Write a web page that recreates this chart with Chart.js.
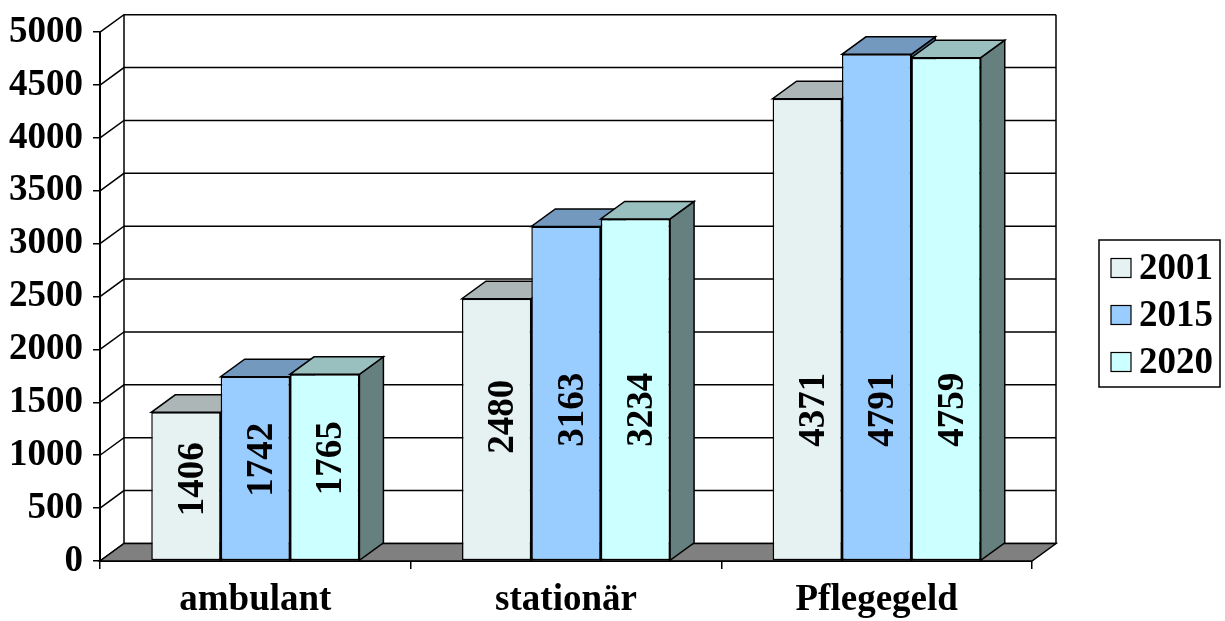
<!DOCTYPE html>
<html>
<head>
<meta charset="utf-8">
<style>
  html, body { margin: 0; padding: 0; background: #ffffff; }
  #wrap { width: 1225px; height: 621px; }
</style>
<script src="https://cdn.jsdelivr.net/npm/chart.js@4.4.1/dist/chart.umd.min.js"></script>
</head>
<body>
<div id="wrap"><canvas id="c" width="1225" height="621"></canvas></div>
<script>
// Leistungsempfänger nach Leistungsart
const categories = ['ambulant', 'stationär', 'Pflegegeld'];
const seriesLabels = ['2001', '2015', '2020'];
const values2001 = [1406, 2480, 4371];
const values2015 = [1742, 3163, 4791];
const values2020 = [1765, 3234, 4759];
const yMin = 0, yMax = 5000, yStep = 500;

const frontColors = ['#E6F2F2', '#99CCFF', '#CCFFFF'];

// receding direction of the 3D box (to the right and up)
const DX = 24, DY = 17.5;
const FONT = '"Liberation Serif", "Times New Roman", serif';

function shade(hex, f) {
  const n = parseInt(hex.slice(1), 16);
  const r = Math.round(((n >> 16) & 255) * f);
  const g = Math.round(((n >> 8) & 255) * f);
  const b = Math.round((n & 255) * f);
  return 'rgb(' + r + ',' + g + ',' + b + ')';
}

function poly(ctx, pts, fill) {
  ctx.beginPath();
  ctx.moveTo(pts[0][0], pts[0][1]);
  for (let i = 1; i < pts.length; i++) ctx.lineTo(pts[i][0], pts[i][1]);
  ctx.closePath();
  if (fill) { ctx.fillStyle = fill; ctx.fill(); }
  ctx.stroke();
}

// walls, floor and the top/side faces of the columns
const box3d = {
  id: 'box3d',
  beforeDatasetsDraw(chart) {
    const ctx = chart.ctx;
    const a = chart.chartArea;
    const ys = chart.scales.y;
    ctx.save();
    ctx.strokeStyle = '#000';
    ctx.lineWidth = 1.5;
    ctx.lineJoin = 'miter';

    // back wall grid + side wall diagonals
    for (let v = yMin; v <= yMax; v += yStep) {
      const y = ys.getPixelForValue(v);
      ctx.beginPath();
      ctx.moveTo(a.left, y);
      ctx.lineTo(a.left + DX, y - DY);
      ctx.lineTo(a.right + DX, y - DY);
      ctx.stroke();
    }
    const yTop = ys.getPixelForValue(yMax), yBot = ys.getPixelForValue(yMin);
    ctx.beginPath();
    ctx.moveTo(a.left + DX, yTop - DY); ctx.lineTo(a.left + DX, yBot - DY);
    ctx.moveTo(a.right + DX, yTop - DY); ctx.lineTo(a.right + DX, yBot - DY);
    ctx.stroke();

    // floor
    poly(ctx, [[a.left, yBot], [a.right, yBot], [a.right + DX, yBot - DY], [a.left + DX, yBot - DY]], '#808080');

    // column tops and sides, painted left to right
    const metas = chart.data.datasets.map((d, i) => chart.getDatasetMeta(i));
    for (let c = 0; c < categories.length; c++) {
      metas.forEach((meta, di) => {
        const el = meta.data[c];
        const p = el.getProps(['x', 'y', 'base', 'width'], true);
        const l = p.x - p.width / 2, r = p.x + p.width / 2;
        const col = frontColors[di];
        poly(ctx, [[r, p.y], [r + DX, p.y - DY], [r + DX, p.base - DY], [r, p.base]], shade(col, 0.5));
        poly(ctx, [[l, p.y], [r, p.y], [r + DX, p.y - DY], [l + DX, p.y - DY]], shade(col, 0.75));
      });
    }
    ctx.restore();
  },
  afterDatasetsDraw(chart) {
    const ctx = chart.ctx;
    const ys = chart.scales.y;
    ctx.save();
    ctx.fillStyle = '#000';
    ctx.font = 'bold 37px ' + FONT;
    ctx.textAlign = 'center';
    ctx.textBaseline = 'middle';
    chart.data.datasets.forEach((ds, di) => {
      const meta = chart.getDatasetMeta(di);
      meta.data.forEach((el, c) => {
        const v = ds.data[c];
        const p = el.getProps(['x'], true);
        const cy = ys.getPixelForValue(Math.min(v * 0.55, 1430));
        ctx.save();
        ctx.translate(p.x + 7, cy);
        ctx.rotate(-Math.PI / 2);
        ctx.fillText(String(v), 0, 0);
        ctx.restore();
      });
    });
    ctx.restore();
  },
  afterDraw(chart) {
    // legend box
    const ctx = chart.ctx;
    ctx.save();
    ctx.strokeStyle = '#000';
    ctx.lineWidth = 1.5;
    ctx.fillStyle = '#fff';
    ctx.fillRect(1099, 240, 121, 147);
    ctx.strokeRect(1099, 240, 121, 147);
    ctx.font = 'bold 37px ' + FONT;
    ctx.textAlign = 'left';
    ctx.textBaseline = 'middle';
    chart.data.datasets.forEach((ds, i) => {
      const cy = 268 + i * 47;
      ctx.fillStyle = ds.backgroundColor;
      ctx.fillRect(1111, cy - 9.5, 20, 19);
      ctx.lineWidth = 1.2;
      ctx.strokeRect(1111, cy - 9.5, 20, 19);
      ctx.fillStyle = '#000';
      ctx.fillText(ds.label, 1139, cy + 1);
    });
    ctx.restore();
  }
};

const datasets = [values2001, values2015, values2020].map((vals, i) => ({
  label: seriesLabels[i],
  data: vals,
  backgroundColor: frontColors[i],
  borderColor: '#000',
  borderWidth: 1.5,
  borderSkipped: false,
  categoryPercentage: 0.67,
  barPercentage: 1.0
}));

Chart.defaults.font.family = FONT;
Chart.defaults.color = '#000';

new Chart(document.getElementById('c'), {
  type: 'bar',
  data: { labels: categories, datasets },
  options: {
    responsive: false,
    devicePixelRatio: 1,
    animation: false,
    layout: { padding: { top: 29, right: 193, bottom: 0, left: 0 } },
    plugins: { legend: { display: false }, tooltip: { enabled: false } },
    scales: {
      x: {
        z: 1,
        grid: { offset: true, drawOnChartArea: false, drawTicks: true, tickLength: 8, color: '#000', lineWidth: 1.5 },
        border: { display: true, color: '#000', width: 2 },
        ticks: { font: { size: 37, weight: 'bold' }, padding: 9, color: '#000' },
        afterFit(s) { s.height = 60; }
      },
      y: {
        z: 1,
        min: yMin, max: yMax,
        grid: { drawOnChartArea: false, drawTicks: true, tickLength: 7, color: '#000', lineWidth: 1.5 },
        border: { display: true, color: '#000', width: 2 },
        ticks: {
          stepSize: yStep,
          font: { size: 37, weight: 'bold' },
          padding: 10,
          color: '#000',
          callback: (v) => String(v)
        },
        afterFit(s) { s.width = 100; }
      }
    }
  },
  plugins: [box3d]
});
</script>
</body>
</html>
